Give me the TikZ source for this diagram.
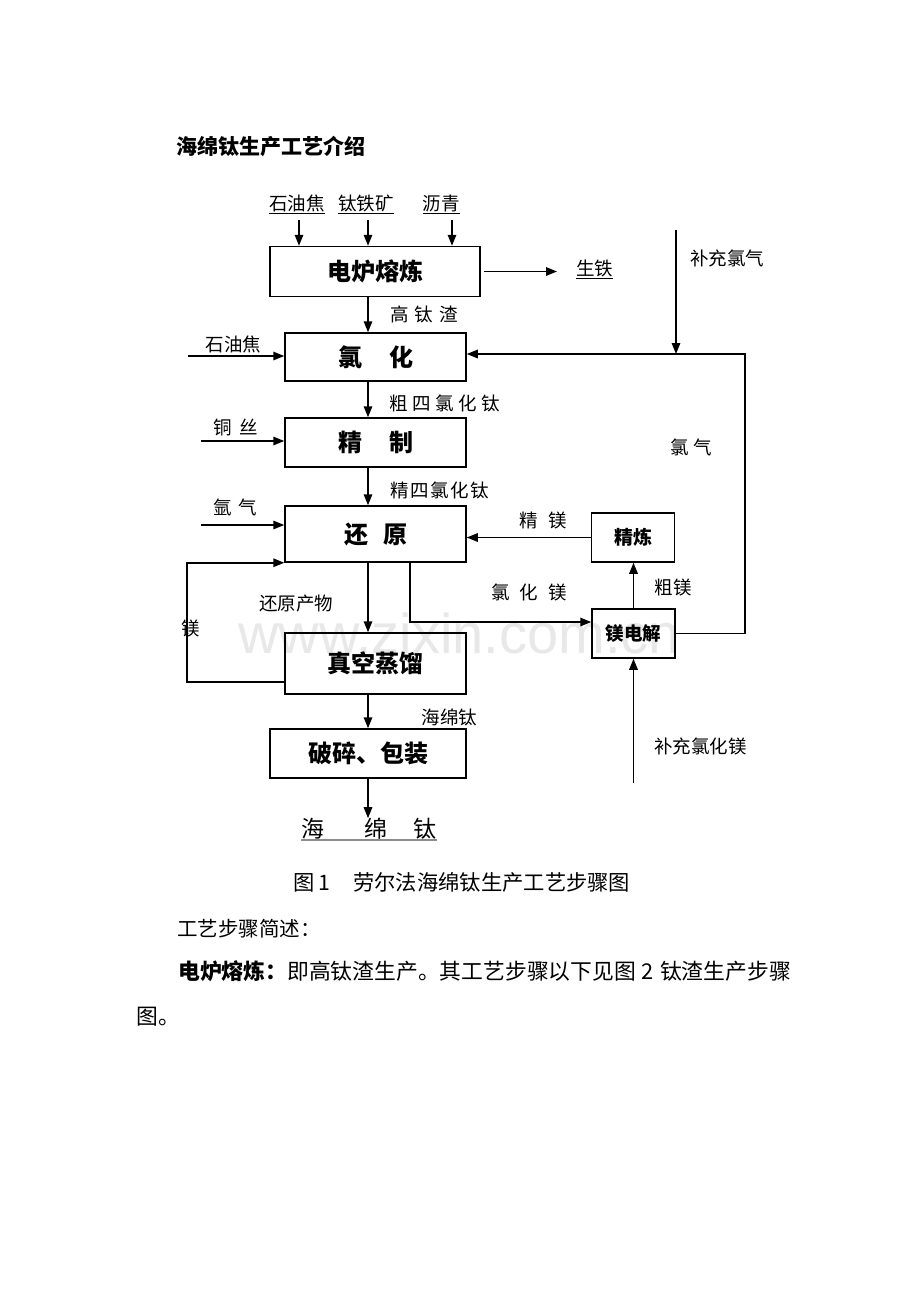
\documentclass[tikz,border=0pt]{standalone}
\usepackage{fontspec}
\setmainfont{Noto Sans CJK SC}
\newfontfamily\wmfont{Liberation Sans}
\usetikzlibrary{arrows.meta}
\newcommand\fs[1]{\fontsize{#1}{#1}\selectfont}
\newcommand\gp[1]{\hspace{#1pt}}
\begin{document}
\begin{tikzpicture}[x=1pt,y=-1pt,
  box/.style={draw, line width=1.5pt, inner sep=0pt, font=\bfseries\fs{24}},
  lab/.style={inner sep=0pt, font=\fs{18.5}},
  arr/.style={line width=1.5pt, -{Triangle[length=11pt,width=8.5pt]}},
  body/.style={inner sep=0pt, anchor=west, font=\fs{21}}]
\useasboundingbox (0,0) rectangle (920,1302);
\fill[white] (0,0) rectangle (920,1302);
% watermark
\node[anchor=base west, inner sep=0pt, text=black!9, font=\wmfont\fs{56}] (wm) at (238,653) {www.zixin.com.cn};
% title
\node[body, font=\bfseries\fs{21}] (title) at (176,146) {海绵钛生产工艺介绍};
% top inputs
\node[lab] (t1) at (297,204) {\underline{石油焦}};
\node[lab] (t2) at (366,204) {\underline{钛铁矿}};
\node[lab] (t3) at (441,204) {\underline{沥青}};
% boxes
\node[box, minimum width=210, minimum height=50] (b1) at (375,271.5) {电炉熔炼};
\node[box, minimum width=181, minimum height=48] (b2) at (375.5,357) {氯\gp{27}化};
\node[box, minimum width=181, minimum height=49] (b3) at (375.5,442.5) {精\gp{27}制};
\node[box, minimum width=181, minimum height=56] (b4) at (375.5,534) {还\gp{15}原};
\node[box, minimum width=181, minimum height=61] (b5) at (375.5,663.5) {真空蒸馏};
\node[box, minimum width=196, minimum height=49] (b6) at (368,753.5) {破碎、包装};
\node[box, minimum width=83, minimum height=49, font=\bfseries\fs{19}] (b7) at (633,537.5) {精炼};
\node[box, minimum width=83, minimum height=49, font=\bfseries\fs{18.5}] (b8) at (633.5,633.5) {镁电解};
% main column
\coordinate (cx) at (368,0);
\draw[arr] (b1.south -| cx) -- (b2.north -| cx);
\draw[arr] (b2.south -| cx) -- (b3.north -| cx);
\draw[arr] (b3.south -| cx) -- (b4.north -| cx);
\draw[arr] (b4.south -| cx) -- (b5.north -| cx);
\draw[arr] (b5.south -| cx) -- (b6.north -| cx);
\node[lab, font=\fs{23}] (prod) at (369,829) {海\gp{40}绵\gp{26}钛};
\draw[arr] (b6.south -| cx) -- (prod.north -| cx);
\draw[black!45, line width=2pt] (prod.south west) -- (prod.south east);
% top input arrows
\coordinate (a1) at (299,220);
\coordinate (a2) at (368,220);
\coordinate (a3) at (452,220);
\draw[arr] (a1) -- (a1 |- b1.north);
\draw[arr] (a2) -- (a2 |- b1.north);
\draw[arr] (a3) -- (a3 |- b1.north);
% pig iron
\node[lab] (pig) at (594.5,269) {\underline{生铁}};
\coordinate (pe) at (557,270);
\draw[arr] ([xshift=3pt]b1.east) -- (pe |- b1.east);
% chlorine recycle
\node[lab, anchor=west] (sup1) at (690,258) {补充氯气};
\coordinate (s1) at (676,230);
\coordinate (fr) at (745,354);
\draw[arr] (s1) -- (s1 |- fr);
\draw[arr] (b8.east) -| (fr) -- (fr -| b2.east);
\node[lab] (cl) at (691,447) {氯\gp{5}气};
% labels on main column
\node[lab, anchor=west] (l12) at (390,314) {高\gp{6}钛\gp{6}渣};
\node[lab, anchor=west] (l23) at (389,403) {粗\gp{4.5}四\gp{4.5}氯\gp{4.5}化\gp{4.5}钛};
\node[lab, anchor=west] (l34) at (390,490) {精\gp{1.6}四\gp{1.6}氯\gp{1.6}化\gp{1.6}钛};
\node[lab] (l45) at (296,604) {还原产物};
\node[lab] (l56) at (449.5,717) {海绵钛};
% left inputs
\node[lab] (l2) at (233.5,344) {石油焦};
\coordinate (i2) at (188,356);
\draw[arr] (i2) -- (i2 -| b2.west);
\node[lab] (l3) at (236,427) {铜\gp{8}丝};
\coordinate (i3) at (201,441);
\draw[arr] (i3) -- (i3 -| b3.west);
\node[lab] (l4) at (235,507) {氩\gp{7}气};
\coordinate (i4) at (201,525);
\draw[arr] (i4) -- (i4 -| b4.west);
% magnesium loop
\coordinate (mg) at (187,682);
\draw[arr] (mg -| b5.west) -- (mg) |- (b4.south west);
\node[lab] (lmg) at (191,628) {镁};
% MgCl2 to electrolysis
\coordinate (cm) at (410,622);
\draw[arr] (cm |- b4.south) -- (cm) -- (cm -| b8.west);
\node[lab] (lcm) at (529,592) {氯\gp{10}化\gp{10}镁};
% refined Mg
\draw[arr] (b7.west) -- (b7.west -| b4.east);
\node[lab] (lrm) at (543,520) {精\gp{11}镁};
\draw[arr] (b8.north) -- (b8.north |- b7.south);
\node[lab] (lcr) at (673,587) {粗镁};
\coordinate (s2) at (633.5,783);
\draw[arr] (s2) -- (b8.south);
\node[lab, anchor=west] (sup2) at (654,746) {补充氯化镁};
% caption and text
\node[body, font=\fs{21.3}] (cap) at (293,882) {图\gp{4}1\gp{23}劳尔法海绵钛生产工艺步骤图};
\node[body, font=\fs{20.5}] (p1) at (177,929) {工艺步骤简述：};
\node[body, font=\fs{21.8}] (p2) at (178,971) {\textbf{电炉熔炼：}即高钛渣生产。其工艺步骤以下见图\gp{6}2\gp{6}钛渣生产步骤};
\node[body, font=\fs{21.8}] (p3) at (136,1017) {图。};
\end{tikzpicture}
\end{document}
